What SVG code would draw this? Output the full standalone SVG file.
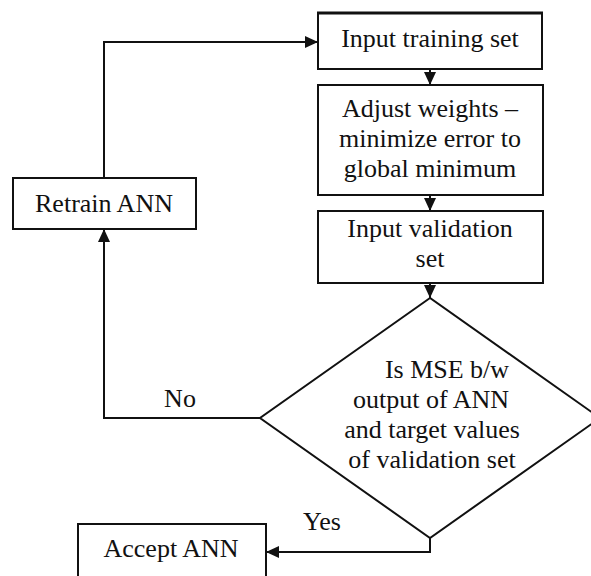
<svg xmlns="http://www.w3.org/2000/svg" width="591" height="576" viewBox="0 0 591 576">
<style>
.box{fill:#fff;stroke:#111;stroke-width:2}
.t{font-family:"Liberation Serif","Times New Roman",serif;font-size:26px;fill:#111;text-anchor:middle}
.c{fill:none;stroke:#111;stroke-width:2}
</style>
<defs>
<marker id="ah" viewBox="0 0 13 12" refX="13" refY="6" markerWidth="13" markerHeight="12" markerUnits="userSpaceOnUse" orient="auto">
<path d="M0,0 L13,6 L0,12 z" fill="#111"/>
</marker>
</defs>
<rect width="591" height="576" fill="#fff"/>
<g id="connectors">
<path class="c" d="M104,178 V42 H318" marker-end="url(#ah)"/>
<path class="c" d="M430,69 V85" marker-end="url(#ah)"/>
<path class="c" d="M430,195 V211" marker-end="url(#ah)"/>
<path class="c" d="M430,283 V298" marker-end="url(#ah)"/>
<path class="c" d="M260,418 H104 V229" marker-end="url(#ah)"/>
<path class="c" d="M430,538 V552 H266" marker-end="url(#ah)"/>
<text class="t" x="180" y="407">No</text>
<text class="t" x="322" y="530">Yes</text>
</g>
<g id="input-training">
<rect class="box" x="318" y="13" width="224" height="56"/>
<line x1="317" y1="13" x2="543" y2="13" stroke="#111" stroke-width="3"/>
<text class="t" x="430" y="47">Input training set</text>
</g>
<g id="adjust-weights">
<rect class="box" x="318" y="85" width="225" height="110"/>
<text class="t" x="430" y="117">Adjust weights –</text>
<text class="t" x="430" y="147">minimize error to</text>
<text class="t" x="430" y="177">global minimum</text>
</g>
<g id="input-validation">
<rect class="box" x="318" y="211" width="225" height="72"/>
<text class="t" x="430" y="237">Input validation</text>
<text class="t" x="430" y="267">set</text>
</g>
<g id="decision">
<polygon class="box" points="430,298 260,418 430,538 600,418"/>
<text class="t" x="447" y="378">Is MSE b/w</text>
<text class="t" x="431" y="408">output of ANN</text>
<text class="t" x="432" y="438">and target values</text>
<text class="t" x="432" y="468">of validation set</text>
</g>
<g id="retrain">
<rect class="box" x="13" y="178" width="183" height="51"/>
<text class="t" x="104" y="212">Retrain ANN</text>
</g>
<g id="accept">
<rect class="box" x="78" y="524" width="188" height="70"/>
<text class="t" x="171" y="557">Accept ANN</text>
</g>
</svg>
